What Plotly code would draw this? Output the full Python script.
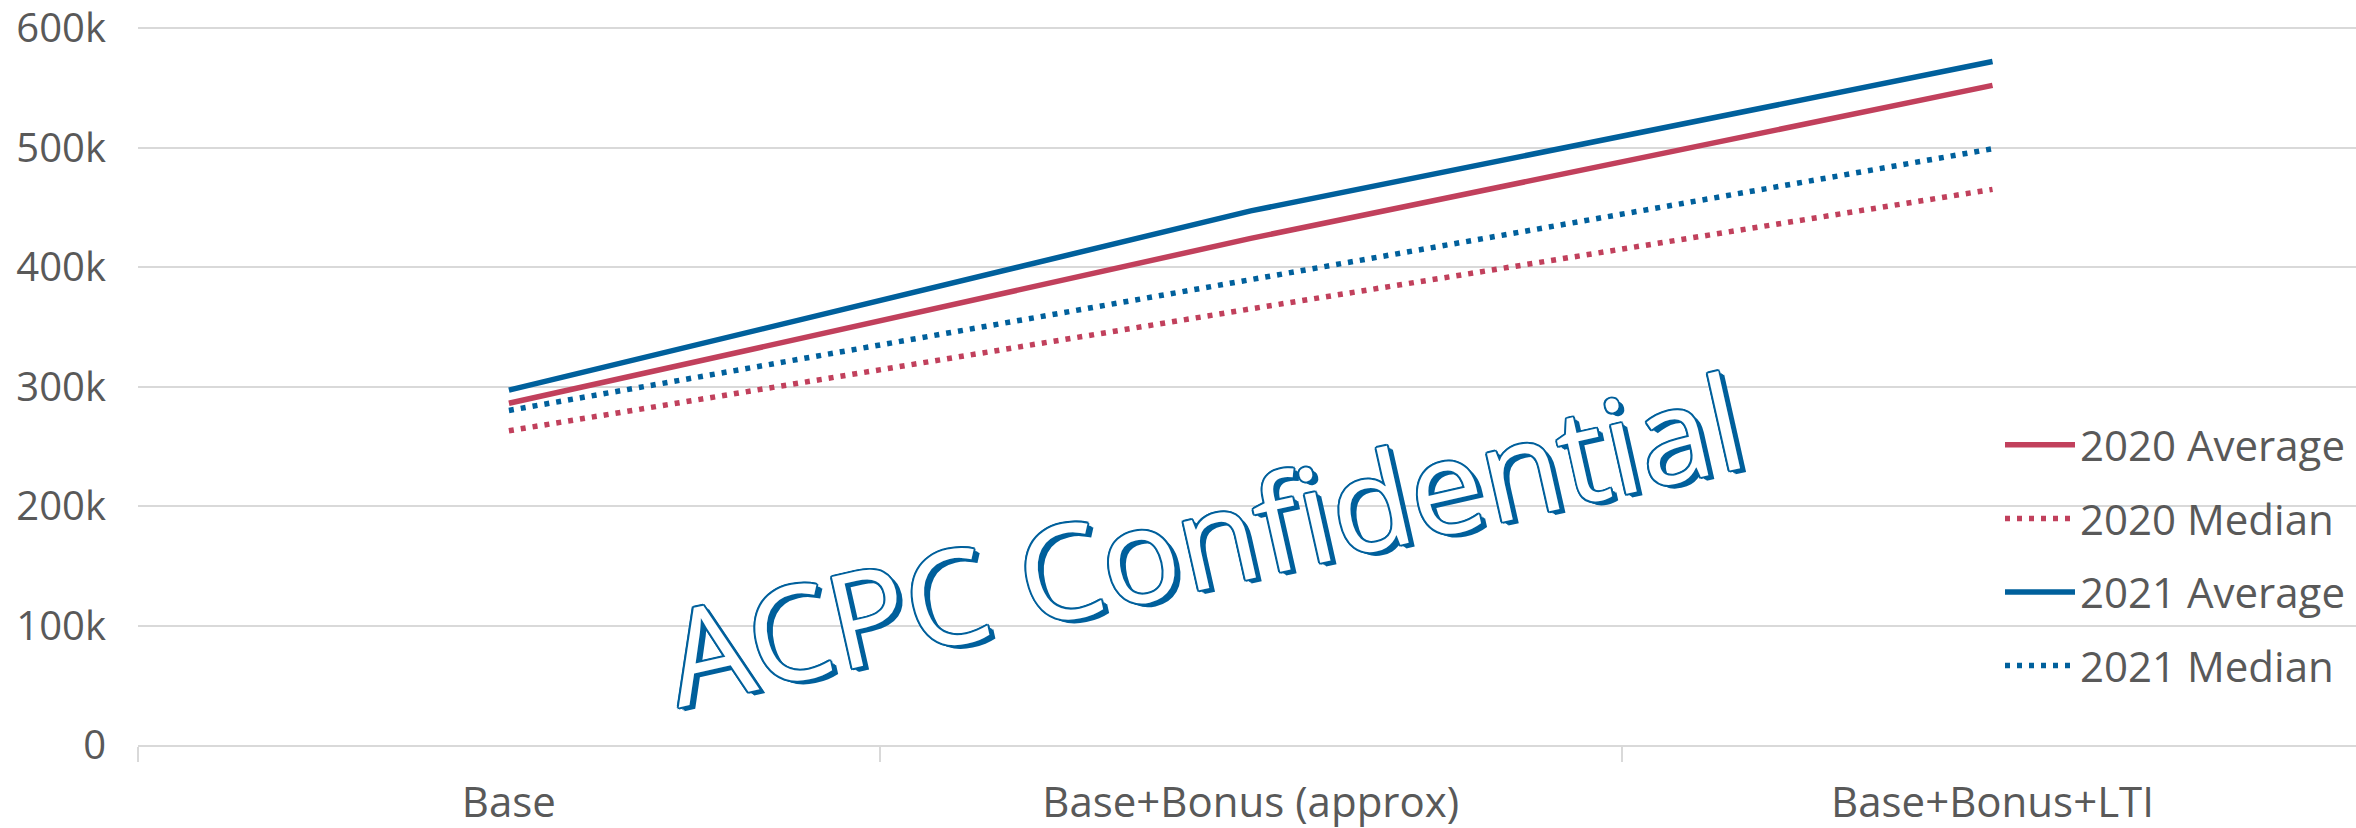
import plotly.graph_objects as go

categories = ["Base", "Base+Bonus (approx)", "Base+Bonus+LTI"]
avg_2020 = [286000, 424000, 552000]
med_2020 = [263000, 365000, 465000]
avg_2021 = [297000, 447000, 572000]
med_2021 = [280000, 390000, 499000]

y_tickvals = [0, 100000, 200000, 300000, 400000, 500000, 600000]
y_ticktext = ["0", "100k", "200k", "300k", "400k", "500k", "600k"]

RED = "#C1405C"
BLUE = "#00609C"
GRAY_TXT = "#595959"
GRID = "#D9D9D9"

series = [
    ("2020 Average", avg_2020, RED, "solid"),
    ("2020 Median", med_2020, RED, "5px,7px"),
    ("2021 Average", avg_2021, BLUE, "solid"),
    ("2021 Median", med_2021, BLUE, "5px,7px"),
]

fig = go.Figure()
for i, (name, vals, col, dash) in enumerate(series):
    fig.add_trace(go.Scatter(
        x=categories, y=vals, mode="lines", name=name,
        legendgroup=f"g{i}",
        line=dict(color=col, width=5.5, dash=dash),
    ))

W, H = 2356, 828
ml, mr, mt, mb = 138, 0, 27, 83
pw = W - ml - mr
ph = H - mt - mb

def px_x(px):
    return (px - ml) / pw

def px_y(py):
    return (H - mb - py) / ph

fig.update_layout(
    width=W, height=H,
    margin=dict(l=ml, r=mr, t=mt, b=mb, autoexpand=False),
    paper_bgcolor="white", plot_bgcolor="white",
    font=dict(family="Open Sans", color=GRAY_TXT),
    showlegend=True,
    legend=dict(
        x=px_x(2000), y=px_y(411), xanchor="left", yanchor="top",
        bgcolor="rgba(0,0,0,0)", font=dict(size=42, color=GRAY_TXT),
        itemwidth=70, tracegroupgap=16, traceorder="grouped",
    ),
    xaxis=dict(
        type="category", range=[-0.5, 2.49], automargin=False,
        showgrid=False, showline=True, linecolor=GRID, linewidth=2,
        ticks="outside", tickson="boundaries", ticklen=15, tickcolor=GRID, tickwidth=2,
        tickfont=dict(size=42, color=GRAY_TXT), ticklabelstandoff=20,
        ticklabeloverflow="allow",
    ),
    yaxis=dict(
        range=[0, 600900], tickvals=y_tickvals, ticktext=y_ticktext, automargin=False,
        showgrid=True, gridcolor=GRID, gridwidth=2, zeroline=False,
        showline=False, ticks="",
        tickfont=dict(size=40, color=GRAY_TXT), ticklabelstandoff=31,
        ticklabeloverflow="allow",
    ),
)

shadow = ", ".join([
    f"{dx}px {dy}px 0 {BLUE}" for dx, dy in
    [(-1.5, -1.5), (1.5, -1.5), (-1.5, 1.5), (1.5, 1.5), (0, 2), (0, -2), (2, 0), (-2, 0),
     (3, 3), (4, 4), (5, 5)]
])
fig.add_annotation(
    text="ACPC Confidential", xref="paper", yref="paper",
    x=px_x(1203), y=px_y(537), xanchor="center", yanchor="middle",
    showarrow=False, textangle=-12.7,
    font=dict(family="Open Sans", size=131, color="white", shadow=shadow),
)

fig.write_html("out.html", config={"displayModeBar": False},
               post_script="document.body.style.margin='0';")
